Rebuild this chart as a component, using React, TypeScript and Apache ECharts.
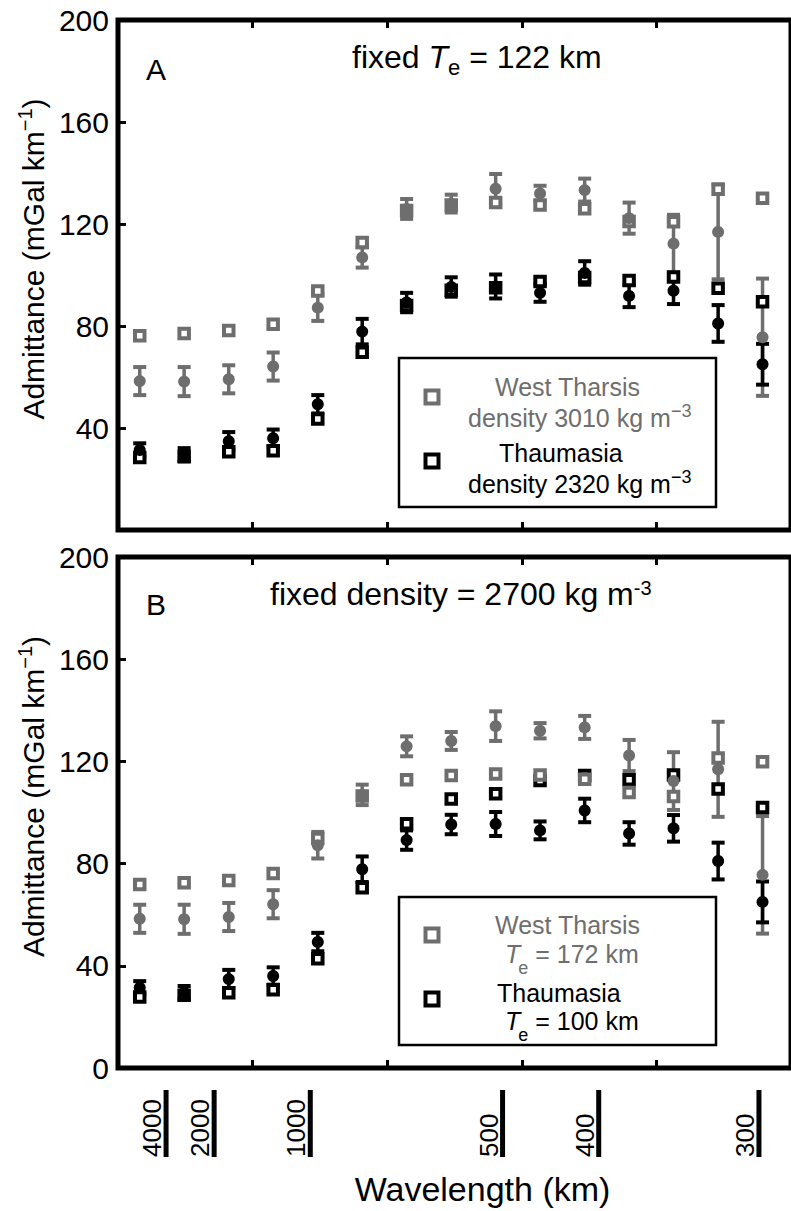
import React, { useEffect, useRef } from 'react';
import * as echarts from 'echarts';

const FONT = '"Liberation Sans", Arial, Helvetica, sans-serif';
const GRAY = '#6e6e6e';
const BLACK = '#000000';

// wavenumber of each bin, 10^-3 km^-1
const WAVENUMBER = [0.113, 0.344, 0.576, 0.807, 1.039, 1.27, 1.501, 1.733, 1.964, 2.195, 2.427, 2.658, 2.889, 3.121, 3.352];

// observed admittance (mGal/km) with 1-sigma errors
const WT_OBS = [58.4, 58.2, 59.1, 64.1, 87.2, 106.9, 125.9, 128.0, 133.8, 132.0, 133.3, 122.3, 112.3, 116.9, 75.6];
const WT_ERR = [5.5, 5.7, 5.5, 5.5, 5.2, 4.0, 3.9, 3.5, 5.8, 3.0, 4.5, 6.1, 11.3, 18.6, 23.0];
const TH_OBS = [31.4, 29.5, 34.8, 36.0, 49.3, 77.8, 89.2, 95.3, 95.5, 93.0, 100.8, 91.8, 93.8, 81.0, 65.0];
const TH_ERR = [2.6, 2.6, 3.6, 3.4, 3.6, 5.0, 3.8, 3.8, 4.7, 3.5, 4.6, 4.4, 5.2, 7.2, 8.0];

// panel A models (fixed Te = 122 km)
const A_WT_MODEL = [76.2, 77.1, 78.2, 80.7, 93.7, 112.7, 125.3, 127.5, 128.4, 127.5, 126.0, 121.0, 120.9, 133.6, 130.1];
const A_TH_MODEL = [28.4, 28.8, 30.7, 31.1, 43.5, 69.7, 88.0, 94.0, 95.0, 97.5, 99.0, 97.8, 99.2, 94.8, 89.5];

// panel B models (fixed density = 2700 kg m-3)
const B_WT_MODEL = [71.8, 72.5, 73.4, 76.1, 89.8, 106.5, 112.8, 114.5, 115.1, 114.7, 113.0, 107.8, 106.3, 121.3, 119.9];
const B_TH_MODEL = [27.8, 28.5, 29.5, 30.6, 42.8, 70.5, 95.6, 105.3, 107.3, 112.5, 114.5, 112.8, 114.7, 109.2, 102.0];

const WAVELENGTH_LABELS = [4000, 2000, 1000, 500, 400, 300];

const GRIDS = [
  { left: 118, top: 20, width: 681, height: 510 },
  { left: 118, top: 557, width: 681, height: 511 },
];

function errRender(color: string) {
  return (params: any, api: any) => {
    const x = api.value(0);
    const lo = api.value(1);
    const hi = api.value(2);
    const p1 = api.coord([x, hi]);
    const p2 = api.coord([x, lo]);
    const w = 6.5;
    const st = { stroke: color, lineWidth: 3.5 };
    const cap = { stroke: color, lineWidth: 4 };
    return {
      type: 'group',
      children: [
        { type: 'line', shape: { x1: p1[0], y1: p1[1], x2: p2[0], y2: p2[1] }, style: st },
        { type: 'line', shape: { x1: p1[0] - w, y1: p1[1], x2: p1[0] + w, y2: p1[1] }, style: cap },
        { type: 'line', shape: { x1: p2[0] - w, y1: p2[1], x2: p2[0] + w, y2: p2[1] }, style: cap },
      ],
    };
  };
}

function squares(g: number, model: number[], color: string) {
  return {
    type: 'scatter',
    xAxisIndex: g * 2,
    yAxisIndex: g,
    symbol: 'rect',
    symbolSize: 9.5,
    silent: true,
    itemStyle: { color: '#ffffff', borderColor: color, borderWidth: 4, opacity: 1 },
    data: WAVENUMBER.map((k, i) => [k, model[i]]),
  };
}

function errBars(g: number, obs: number[], err: number[], color: string) {
  return {
    type: 'custom',
    xAxisIndex: g * 2,
    yAxisIndex: g,
    silent: true,
    clip: false,
    renderItem: errRender(color),
    encode: { x: 0, y: [1, 2] },
    data: WAVENUMBER.map((k, i) => [k, obs[i] - err[i], obs[i] + err[i]]),
  };
}

function circles(g: number, obs: number[], color: string) {
  return {
    type: 'scatter',
    xAxisIndex: g * 2,
    yAxisIndex: g,
    symbol: 'circle',
    symbolSize: 12,
    silent: true,
    itemStyle: { color, opacity: 1 },
    data: WAVENUMBER.map((k, i) => [k, obs[i]]),
  };
}

const LEG_FS = 25;

let measureCtx: CanvasRenderingContext2D | null = null;
function textWidth(text: string, font: string): number {
  if (!measureCtx) measureCtx = document.createElement('canvas').getContext('2d');
  if (!measureCtx) return text.length * 12;
  measureCtx.font = font;
  return measureCtx.measureText(text).width;
}

function plainText(x: number, y: number, text: string, color: string, fontSize: number, italic = false) {
  return {
    type: 'text',
    x,
    y,
    z: 101,
    silent: true,
    style: {
      text,
      fontSize,
      fontFamily: FONT,
      fontStyle: italic ? 'italic' : 'normal',
      fill: color,
      align: 'left',
      verticalAlign: 'middle',
    },
  };
}

function legendText(x: number, y: number, text: string, color: string, rich?: any) {
  return {
    type: 'text',
    x,
    y,
    z: 101,
    silent: true,
    style: {
      text,
      fontSize: LEG_FS,
      fontFamily: FONT,
      fill: color,
      align: 'left',
      verticalAlign: 'middle',
      rich,
    },
  };
}

// "T_e = N km" with a deep subscript, laid out as separate pieces
function teLine(x: number, c: number, rest: string, color: string) {
  const wT = textWidth('T', `italic ${LEG_FS}px "Liberation Sans"`);
  const we = textWidth('e', `18px "Liberation Sans"`);
  return [
    plainText(x, c, 'T', color, LEG_FS, true),
    plainText(x + wT - 2, c + 14, 'e', color, 18),
    plainText(x + wT - 2 + we, c, rest, color, LEG_FS),
  ];
}

function supRich(color: string, L: number) {
  return {
    n: { fontSize: LEG_FS, fontFamily: FONT, fill: color, lineHeight: L, verticalAlign: 'middle' },
    sup: { fontSize: 18, fontFamily: FONT, fill: color, lineHeight: 18, verticalAlign: 'top' },
  };
}

function legendBox(top: number, height: number) {
  return {
    type: 'rect',
    z: 100,
    silent: true,
    shape: { x: 399, y: top, width: 317, height },
    style: { fill: '#ffffff', stroke: '#000000', lineWidth: 2.5 },
  };
}

function legendMarker(cx: number, cy: number, color: string) {
  return {
    type: 'rect',
    z: 101,
    silent: true,
    shape: { x: cx - 6.5, y: cy - 6.5, width: 13, height: 13 },
    style: { fill: '#ffffff', stroke: color, lineWidth: 4 },
  };
}

export default function App() {
  const ref = useRef<HTMLDivElement>(null);

  useEffect(() => {
    if (!ref.current) return;
    const chart = echarts.init(ref.current, null, { renderer: 'svg' });

    const xAxis: any[] = [];
    const yAxis: any[] = [];
    GRIDS.forEach((_, g) => {
      const base = {
        gridIndex: g,
        type: 'value',
        min: 0,
        max: 3.5,
        interval: 0.7,
        axisLine: { show: false },
        axisTick: { show: true, inside: true, length: 8, lineStyle: { color: '#000', width: 3 } },
        axisLabel: { show: false },
        splitLine: { show: false },
      };
      const bottom: any = { ...base, position: 'bottom' };
      if (g === 1) {
        bottom.name = 'Wavelength (km)';
        bottom.nameLocation = 'middle';
        bottom.nameGap = 104;
        bottom.nameTextStyle = { fontSize: 34, fontFamily: FONT, color: '#000', padding: [0, 0, 0, 56] };
      }
      xAxis.push(bottom);
      xAxis.push({ ...base, position: 'top' });
      yAxis.push({
        gridIndex: g,
        type: 'value',
        min: 0,
        max: 200,
        interval: 40,
        position: 'left',
        axisLine: { show: false },
        axisTick: { show: true, inside: true, length: 8, lineStyle: { color: '#000', width: 3 } },
        axisLabel: {
          fontSize: 30,
          fontFamily: FONT,
          color: '#000',
          margin: 9,
          formatter: (v: number) => (g === 0 && v === 0 ? '' : String(v)),
        },
        splitLine: { show: false },
        name: '{n|Admittance (mGal km}{sup|\u22121}{n|)}',
        nameLocation: 'middle',
        nameGap: 64,
        nameTextStyle: {
          padding: [0, 0, 0, 32],
          rich: {
            n: { fontSize: 30, fontFamily: FONT, color: '#000', lineHeight: 36, verticalAlign: 'middle' },
            sup: { fontSize: 20, fontFamily: FONT, color: '#000', lineHeight: 20, verticalAlign: 'top' },
          },
        },
      });
    });

    const series: any[] = [];
    const models = [
      [A_WT_MODEL, A_TH_MODEL],
      [B_WT_MODEL, B_TH_MODEL],
    ];
    GRIDS.forEach((_, g) => {
      series.push(squares(g, models[g][1], BLACK));
      series.push(squares(g, models[g][0], GRAY));
      series.push(errBars(g, WT_OBS, WT_ERR, GRAY));
      series.push(circles(g, WT_OBS, GRAY));
      series.push(errBars(g, TH_OBS, TH_ERR, BLACK));
      series.push(circles(g, TH_OBS, BLACK));
    });

    series.push({
      type: 'custom',
      xAxisIndex: 2,
      yAxisIndex: 1,
      silent: true,
      clip: false,
      encode: { x: 0, y: 1 },
      data: WAVELENGTH_LABELS.map((w) => [1000 / w, 0, w]),
      renderItem: (params: any, api: any) => {
        const k = api.value(0);
        const lam = api.value(2);
        const p = api.coord([k, 0]);
        return {
          type: 'group',
          children: [
            { type: 'rect', shape: { x: p[0] - 2.5, y: p[1] + 22, width: 5, height: 67 }, style: { fill: '#000' } },
            {
              type: 'text',
              x: p[0] - 1,
              y: p[1] + 89,
              rotation: Math.PI / 2,
              style: {
                text: String(lam),
                fontSize: 26,
                fontFamily: FONT,
                fill: '#000',
                align: 'left',
                verticalAlign: 'bottom',
              },
            },
          ],
        };
      },
    });

    const titleRich = (L: number) => ({
      n: { fontSize: 32, fontFamily: FONT, fill: '#000', lineHeight: L, verticalAlign: 'middle' },
      i: { fontSize: 32, fontFamily: FONT, fontStyle: 'italic', fill: '#000', lineHeight: L, verticalAlign: 'middle' },
      sub: { fontSize: 22, fontFamily: FONT, fill: '#000', lineHeight: 22, verticalAlign: 'bottom' },
      sup: { fontSize: 20, fontFamily: FONT, fill: '#000', lineHeight: 20, verticalAlign: 'top' },
    });

    const graphic: any[] = [
      // panel letters
      { type: 'text', x: 156, y: 69, silent: true, style: { text: 'A', fontSize: 30, fontFamily: FONT, fill: '#000', align: 'center', verticalAlign: 'middle' } },
      { type: 'text', x: 156, y: 604, silent: true, style: { text: 'B', fontSize: 30, fontFamily: FONT, fill: '#000', align: 'center', verticalAlign: 'middle' } },
      // titles
      {
        type: 'text', x: 352, y: 57, silent: true,
        style: { text: '{n|fixed }{i|T}{sub|e}{n| = 122 km}', align: 'left', verticalAlign: 'middle', rich: titleRich(43) },
      },
      {
        type: 'text', x: 270, y: 594, silent: true,
        style: { text: '{n|fixed density = 2700 kg m}{sup|-3}', align: 'left', verticalAlign: 'middle', rich: titleRich(33) },
      },
      // legend A
      legendBox(358, 149),
      legendMarker(432, 397, GRAY),
      legendMarker(432, 461, BLACK),
      legendText(495, 387, 'West Tharsis', GRAY),
      legendText(468, 418, '{n|density 3010 kg m}{sup|\u22123}', GRAY, supRich(GRAY, 32)),
      legendText(499, 453, 'Thaumasia', BLACK),
      legendText(468, 484, '{n|density 2320 kg m}{sup|\u22123}', BLACK, supRich(BLACK, 32)),
      // legend B
      legendBox(897, 148),
      legendMarker(432, 935, GRAY),
      legendMarker(432, 999, BLACK),
      legendText(495, 925, 'West Tharsis', GRAY),
      ...teLine(505, 954, ' = 172 km', GRAY),
      legendText(497, 993, 'Thaumasia', BLACK),
      ...teLine(505, 1021, ' = 100 km', BLACK),
    ];

    chart.setOption({
      animation: false,
      backgroundColor: '#ffffff',
      grid: GRIDS.map((gr) => ({
        ...gr,
        show: true,
        borderColor: '#000',
        borderWidth: 5,
        backgroundColor: 'transparent',
        containLabel: false,
      })),
      xAxis,
      yAxis,
      series,
      graphic,
    });

    return () => chart.dispose();
  }, []);

  return (
    <div
      ref={ref}
      style={{ position: 'absolute', left: 0, top: 0, width: 791, height: 1211, background: '#fff' }}
    />
  );
}
